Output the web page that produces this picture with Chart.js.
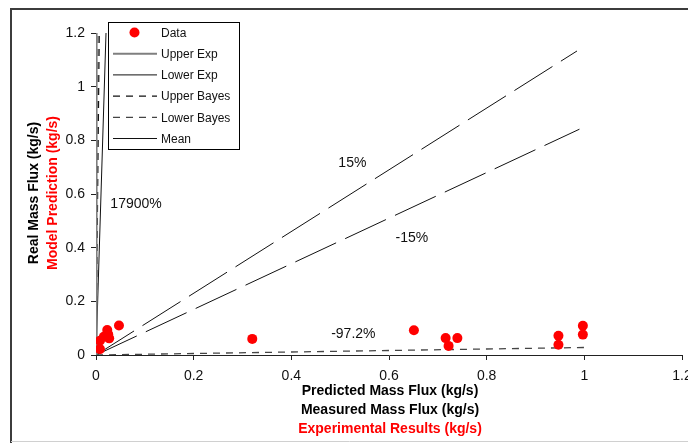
<!DOCTYPE html>
<html>
<head>
<meta charset="utf-8">
<script src="https://cdn.jsdelivr.net/npm/chart.js@4.4.1/dist/chart.umd.min.js"></script>
<style>
    html, body { margin: 0; padding: 0; background: #fff; }
    #wrap { width: 688px; height: 443px; }
</style>
</head>
<body>
<div id="wrap"><canvas id="grafico" width="688" height="443"></canvas></div>
<script>
/* =======================
   DATI
======================= */

// punti sperimentali: previsto (x) vs misurato (y)
const datiX = [0.008, 0.008, 0.016, 0.023, 0.025, 0.027, 0.047, 0.320, 0.651, 0.716, 0.722, 0.740, 0.947, 0.947, 0.997, 0.997];
const datiY = [0.022, 0.053, 0.068, 0.093, 0.077, 0.062, 0.110, 0.060, 0.092, 0.063, 0.034, 0.063, 0.072, 0.038, 0.109, 0.076];

// rette dall'origine: estremi x e y
const upperExpX   = [0, 0.0012];  const upperExpY   = [0, 1.2];
const lowerExpX   = [0, 0.99];    const lowerExpY   = [0, 0.8415];
const upperBayesX = [0, 0.0067];  const upperBayesY = [0, 1.2];
const lowerBayesX = [0, 1.0];     const lowerBayesY = [0, 0.028];
const meanX       = [0, 0.0205];  const meanY       = [0, 1.2];
const piu15X      = [0, 0.985];   const piu15Y      = [0, 1.133];
const bayesBisX   = [0, 0.004];   const bayesBisY   = [0, 1.2];

const tickAssi = [0, 0.2, 0.4, 0.6, 0.8, 1, 1.2];

// etichette percentuali (testo, x, y in unità dati)
const etichette = [
    ["15%", 0.525, 0.716],
    ["-15%", 0.647, 0.436],
    ["17900%", 0.082, 0.563],
    ["-97.2%", 0.527, 0.078]
];

const vociLegenda = ["Data", "Upper Exp", "Lower Exp", "Upper Bayes", "Lower Bayes", "Mean"];

/* =======================
   UTILITIES
======================= */

const FONT = "'Liberation Sans', Arial, sans-serif";

function punti(xs, ys) {
    return xs.map((x, i) => ({ x: x, y: ys[i] }));
}

function retta(label, xs, ys, colore, spessore, dash) {
    return {
        label: label,
        data: punti(xs, ys),
        showLine: true,
        borderColor: colore,
        borderWidth: spessore,
        borderDash: dash,
        pointRadius: 0,
        fill: false,
        order: 1
    };
}

/* =======================
   PLUGIN
======================= */

// cornice esterna
const cornice = {
    id: "cornice",
    beforeDraw(chart) {
        const c = chart.ctx;
        c.save();
        c.fillStyle = "#fff";
        c.fillRect(0, 0, chart.width, chart.height);
        c.strokeStyle = "#3c3c3c";
        c.lineWidth = 2;
        c.beginPath();
        c.moveTo(11, 443);
        c.lineTo(11, 9);
        c.lineTo(690, 9);
        c.stroke();
        c.strokeStyle = "#d0d0d0";
        c.lineWidth = 1;
        c.beginPath();
        c.moveTo(11, 441.5);
        c.lineTo(688, 441.5);
        c.stroke();
        c.restore();
    }
};

// titoli degli assi, etichette e legenda
const testi = {
    id: "testi",
    afterDraw(chart) {
        const c = chart.ctx;
        const sx = chart.scales.x;
        const sy = chart.scales.y;
        c.save();

        c.font = "bold 14px " + FONT;
        c.textAlign = "center";
        c.textBaseline = "middle";
        const cx = 390;
        c.fillStyle = "#000";
        c.fillText("Predicted Mass Flux (kg/s)", cx, 391);
        c.fillText("Measured Mass Flux (kg/s)", cx, 410);
        c.fillStyle = "#ff0000";
        c.fillText("Experimental Results (kg/s)", cx, 429);

        c.save();
        c.translate(34, 193);
        c.rotate(-Math.PI / 2);
        c.fillStyle = "#000";
        c.fillText("Real Mass Flux (kg/s)", 0, 0);
        c.fillStyle = "#ff0000";
        c.fillText("Model Prediction (kg/s)", 0, 19);
        c.restore();

        c.font = "14px " + FONT;
        c.fillStyle = "#111";
        etichette.forEach(([t, x, y]) => {
            c.fillText(t, sx.getPixelForValue(x), sy.getPixelForValue(y));
        });

        // legenda
        const lx = 108.5, ly = 22.5, lw = 131, lh = 127;
        c.fillStyle = "#fff";
        c.fillRect(lx, ly, lw, lh);
        c.strokeStyle = "#000";
        c.lineWidth = 1;
        c.setLineDash([]);
        c.strokeRect(lx, ly, lw, lh);

        c.font = "12px " + FONT;
        c.textAlign = "left";
        vociLegenda.forEach((nome, i) => {
            const ds = chart.data.datasets.find(d => d.label === nome);
            const y = 32.5 + i * 21.2;
            if (ds.showLine) {
                c.strokeStyle = ds.borderColor;
                c.lineWidth = ds.borderWidth;
                c.setLineDash(ds.borderDash || []);
                c.beginPath();
                c.moveTo(113, y);
                c.lineTo(157, y);
                c.stroke();
            } else {
                c.fillStyle = ds.backgroundColor;
                c.beginPath();
                c.arc(134.5, y, ds.pointRadius, 0, Math.PI * 2);
                c.fill();
            }
            c.setLineDash([]);
            c.fillStyle = "#111";
            c.fillText(nome, 161, y + 1);
        });

        c.restore();
    }
};

/* =======================
   GRAFICO
======================= */

const asse = {
    type: "linear",
    min: 0,
    max: 1.2,
    border: { display: true, color: "#222", width: 1 },
    grid: { drawOnChartArea: false, drawTicks: true, tickLength: 5, color: "#222" },
    afterBuildTicks(scale) {
        scale.ticks = tickAssi.map(v => ({ value: v }));
    }
};

new Chart(document.getElementById("grafico"), {
    type: "scatter",
    data: {
        datasets: [
            {
                label: "Data",
                data: punti(datiX, datiY),
                backgroundColor: "#ff0000",
                borderWidth: 0,
                pointRadius: 5,
                pointHoverRadius: 5,
                order: 0
            },
            retta("Upper Exp", upperExpX, upperExpY, "#7f7f7f", 2, []),
            retta("Lower Exp", lowerExpX, lowerExpY, "#111", 1, [45, 10]),
            retta("Upper Bayes", upperBayesX, upperBayesY, "#111", 1.2, [7, 6]),
            retta("Lower Bayes", lowerBayesX, lowerBayesY, "#444", 1.3, [7, 6]),
            retta("Mean", meanX, meanY, "#111", 1, []),
            retta("+15%", piu15X, piu15Y, "#111", 1, [45, 10]),
            retta("Bayes bis", bayesBisX, bayesBisY, "#8a8a8a", 1.5, [7, 6])
        ]
    },
    options: {
        responsive: false,
        animation: false,
        devicePixelRatio: 1,
        layout: { padding: { left: 0, right: 6, top: 33, bottom: 0 } },
        plugins: {
            legend: { display: false },
            tooltip: { enabled: false }
        },
        scales: {
            x: Object.assign({}, asse, {
                position: "bottom",
                ticks: {
                    padding: 8,
                    color: "#111",
                    font: { family: FONT, size: 14 },
                    maxRotation: 0,
                    callback: v => String(Number(v.toFixed(1)))
                },
                afterFit(scale) {
                    scale.height = 88;
                    scale.paddingLeft = 0;
                    scale.paddingRight = 0;
                }
            }),
            y: Object.assign({}, asse, {
                position: "left",
                ticks: {
                    padding: 6,
                    color: "#111",
                    font: { family: FONT, size: 14 },
                    callback: v => String(Number(v.toFixed(1)))
                },
                afterFit(scale) {
                    scale.width = 96;
                    scale.paddingTop = 0;
                    scale.paddingBottom = 0;
                }
            })
        }
    },
    plugins: [cornice, testi]
});
</script>
</body>
</html>
